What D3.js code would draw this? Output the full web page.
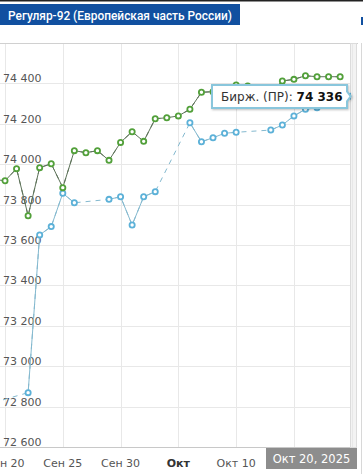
<!DOCTYPE html>
<meta charset="utf-8">
<style>
body { margin: 0; background: #fff; }
svg { display: block; }
text { font-family: "DejaVu Sans", Verdana, sans-serif; }
.grid line { stroke: #e8e8e8; stroke-width: 1; }
.ylab { font-size: 11px; fill: #555; }
.xlab { font-size: 11px; fill: #555; }
</style>
<body>
<script src="https://cdn.jsdelivr.net/npm/d3@7"></script>
<script>

var title = "Регуляр-92 (Европейская часть России)";

// days Sep 19 .. Oct 20, 2025
var days = d3.utcDays(new Date(Date.UTC(2025, 8, 19)), new Date(Date.UTC(2025, 9, 21)));

// green series, one value per day (Sep 19 .. Oct 19)
var greenValues = [73925, 73918, 73978, 73745, 73983, 74002, 73884, 74067, 74057, 74067,
  74019, 74108, 74161, 74113, 74225, 74230, 74239, 74272, 74356, 74359,
  74365, 74392, 74387, 74360, 74350, 74412, 74420, 74438, 74433, 74433, 74433, null];

// blue series "Бирж. (ПР)", weekends missing
var blueValues = [72820, null, null, 72869, 73650, 73691, 73856, 73809, null, null,
  73826, 73839, 73699, 73839, 73864, null, null, 74205, 74111, 74131,
  74153, 74158, null, null, 74169, 74194, 74239, 74272, 74280, 74300, 74318, 74336];

var yTicks = [72600, 72800, 73000, 73200, 73400, 73600, 73800, 74000, 74200, 74400];
var xTicks = ["2025-09-20", "2025-09-25", "2025-09-30", "2025-10-05", "2025-10-10", "2025-10-15", "2025-10-20"];
var xTickLabels = ["Сен 20", "Сен 25", "Сен 30", "Окт", "Окт 10", "Окт 15", "Окт 20"];
var cursorLabel = "Окт 20, 2025";
var tipName = "Бирж. (ПР): ";
var tipValue = 74336;

var width = 363, height = 474;

var svg = d3.select("body").append("svg")
  .attr("width", width)
  .attr("height", height);

var x = d3.scaleUtc()
  .domain([new Date(Date.UTC(2025, 8, 20)), new Date(Date.UTC(2025, 9, 20))])
  .range([5, 351.7]);

var y = d3.scaleLinear()
  .domain([72600, 74600])
  .range([447, 43]);

var ru = d3.formatLocale({ decimal: ",", thousands: " ", grouping: [3], currency: ["", ""] });
var fmt = ru.format(",d");

var cursorBox = { x: 266, w: 91 };

/* header */
svg.append("rect").attr("x", 0).attr("y", 0).attr("width", width).attr("height", 1.5).attr("fill", "#222");
svg.append("rect").attr("x", 0).attr("y", 4).attr("width", 240).attr("height", 21).attr("fill", "#1150a0");
svg.append("rect").attr("x", 361).attr("y", 17).attr("width", 2).attr("height", 8).attr("fill", "#1150a0");
svg.append("text")
  .attr("x", 8).attr("y", 19.5)
  .attr("fill", "#fff")
  .style("font-family", "Roboto, 'Open Sans', sans-serif")
  .style("font-weight", 500)
  .style("font-size", "13.5px")
  .attr("textLength", 224)
  .attr("lengthAdjust", "spacingAndGlyphs")
  .text(title);

/* frame */
svg.append("line").attr("x1", 0).attr("x2", 358).attr("y1", 43.5).attr("y2", 43.5).attr("stroke", "#d0d0d0");
svg.append("rect").attr("x", 350.5).attr("y", 43.5).attr("width", 6).attr("height", 404)
  .attr("fill", "#f3f3f3").attr("stroke", "#dcdcdc");
svg.append("line").attr("x1", 361.5).attr("x2", 361.5).attr("y1", 43).attr("y2", 474).attr("stroke", "#d8d8d8");

/* grid */
var grid = svg.append("g").attr("class", "grid");
grid.selectAll("line.h").data(yTicks).enter().append("line")
  .attr("class", "h")
  .attr("x1", 0).attr("x2", 350)
  .attr("y1", function(d) { return Math.round(y(d)) + 0.5; })
  .attr("y2", function(d) { return Math.round(y(d)) + 0.5; });
grid.selectAll("line.v").data(xTicks).enter().append("line")
  .attr("class", "v")
  .attr("x1", function(d) { return Math.round(x(new Date(d))) + 0.5; })
  .attr("x2", function(d) { return Math.round(x(new Date(d))) + 0.5; })
  .attr("y1", 44).attr("y2", 447);

svg.append("line").attr("x1", 0).attr("x2", 350).attr("y1", 447.5).attr("y2", 447.5).attr("stroke", "#c8c8c8");

/* y labels */
svg.selectAll("text.ylab").data(yTicks).enter().append("text")
  .attr("class", "ylab")
  .attr("x", 3)
  .attr("y", function(d) { return y(d) - 1; })
  .text(function(d) { return fmt(d); });

/* x labels (the ones under the cursor date box are hidden, as in the chart) */
var xLab = xTicks.map(function(d, i) { return { date: new Date(d), label: xTickLabels[i] }; })
  .filter(function(t) { return x(t.date) + 20 < cursorBox.x; });

svg.selectAll("text.xlab").data(xLab).enter().append("text")
  .attr("class", "xlab")
  .attr("x", function(t) { return x(t.date); })
  .attr("y", 467)
  .attr("text-anchor", "middle")
  .style("font-weight", function(t) { return t.label == "Окт" ? "bold" : "normal"; })
  .style("fill", function(t) { return t.label == "Окт" ? "#333" : null; })
  .text(function(t) { return t.label; });

/* series */
svg.append("clipPath").attr("id", "plot")
  .append("rect").attr("x", 0).attr("y", 43).attr("width", 351).attr("height", 404);

var plot = svg.append("g").attr("clip-path", "url(#plot)");

function series(values, lineColor, markColor) {
  var pts = days.map(function(d, i) { return { date: d, value: values[i] }; });
  var defPts = pts.filter(function(p) { return p.value != null; });
  var line = d3.line()
    .defined(function(p) { return p.value != null; })
    .x(function(p) { return x(p.date); })
    .y(function(p) { return y(p.value); });

  plot.append("path")
    .attr("d", line(defPts))
    .attr("fill", "none")
    .attr("stroke", lineColor)
    .attr("stroke-width", 1)
    .attr("stroke-dasharray", "5,5");
  plot.append("path")
    .attr("d", line(pts))
    .attr("fill", "none")
    .attr("stroke", lineColor)
    .attr("stroke-width", 1);
  plot.selectAll(null).data(defPts).enter().append("circle")
    .attr("cx", function(p) { return x(p.date); })
    .attr("cy", function(p) { return y(p.value); })
    .attr("r", 2.6)
    .attr("fill", "#fff")
    .attr("stroke", markColor)
    .attr("stroke-width", 1.8);
}

series(blueValues, "#84b9cf", "#5cb1d8");
series(greenValues, "#5e735a", "#52a03a");

/* tooltip */
var tipX = x(days[days.length - 1]), tipY = y(tipValue);
var tip = svg.append("g");
tip.append("path")
  .attr("d", "M212,85 H347 V" + (tipY - 5) + " L" + (tipX - 1) + "," + tipY + " L347," + (tipY + 5) + " V108 H212 Z")
  .attr("fill", "#fff")
  .attr("stroke", "#89c6dc")
  .attr("stroke-width", 2)
  .style("filter", "drop-shadow(1px 1px 1px rgba(0,0,0,0.25))");
var tt = tip.append("text")
  .attr("x", 221).attr("y", 101)
  .style("font-size", "12px")
  .attr("fill", "#333");
tt.append("tspan").text(tipName);
tt.append("tspan").style("font-weight", "bold").attr("fill", "#111").text(fmt(tipValue));

/* cursor date label */
svg.append("rect").attr("x", cursorBox.x).attr("y", 448).attr("width", cursorBox.w).attr("height", 21).attr("fill", "#8d8d8d");
svg.append("text")
  .attr("x", cursorBox.x + cursorBox.w / 2).attr("y", 463)
  .attr("text-anchor", "middle")
  .attr("fill", "#fff")
  .style("font-size", "11.5px")
  .text(cursorLabel);

</script>
</body>
